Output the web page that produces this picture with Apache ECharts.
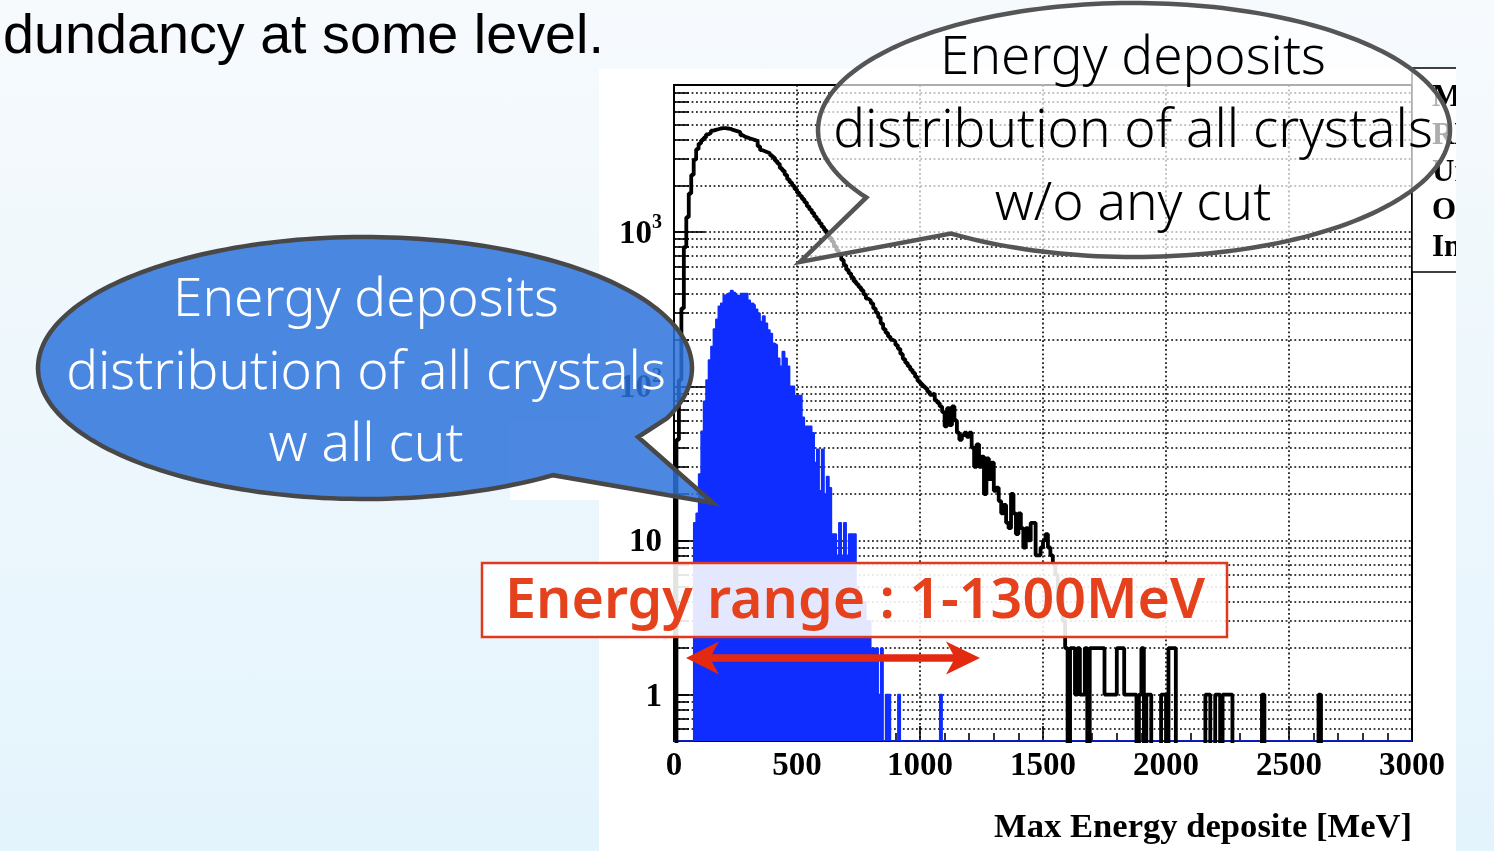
<!DOCTYPE html>
<html>
<head>
<meta charset="utf-8">
<script src="https://cdn.jsdelivr.net/npm/echarts@6/dist/echarts.min.js"></script>
<style>
html,body{margin:0;padding:0;width:1494px;height:851px;overflow:hidden;}
body{background:linear-gradient(to bottom,#f6fafd 0%,#e4f4fc 100%);position:relative;}
#panel{position:absolute;left:599px;top:69px;width:857px;height:782px;background:#fff;}
#c{position:absolute;left:0;top:0;width:1494px;height:851px;}
</style>
</head>
<body>
<div id="panel"></div>
<div id="c"></div>
<script>
// ---------------- data ----------------
const energyBinStart = 0;      // MeV
const energyBinWidth = 10;     // MeV
// counts per 10 MeV bin, 0..3000 MeV, without any cut (black outline)
const countsNoCut = [
  0,45,110,320,800,1250,1780,2350,2950,3450,3750,3950,4100,4300,4400,4550,4600,4650,4700,4720,
  4720,4700,4680,4600,4550,4500,4450,4250,4150,4100,4050,4000,3950,3900,3600,3400,3350,3300,3250,3150,
  3050,2900,2780,2600,2500,2350,2200,2100,2000,1900,1800,1720,1640,1560,1470,1400,1330,1260,1200,1140,
  1080,1030,980,920,870,810,760,710,660,610,570,540,510,480,460,440,420,395,370,360,
  345,320,300,280,255,235,222,210,200,195,185,175,162,150,142,135,128,122,115,108,
  104,100,97,92,88,90,81,78,74,68,55,72,56,74,60,50,45,48,50,47,
  50,40,30,42,30,35,20,34,25,32,21,22,18,15,17,13,12,20,15,11,
  15,12,9,12,10,13,13,8,8,9,10,11,9,8,7,6,4,5,3,2,
  0,2,2,1,2,1,1,2,0,2,2,2,2,2,2,1,1,1,1,1,
  2,2,2,1,1,1,1,1,0,1,2,0,1,1,0,0,0,0,1,1,
  0,2,2,2,0,0,0,0,0,0,0,0,0,0,0,0,1,1,0,0,
  1,1,0,1,1,1,1,0,0,0,0,0,0,0,0,0,0,0,0,1,
  0,0,0,0,0,0,0,0,0,0,0,0,0,0,0,0,0,0,0,0,
  0,0,1,0,0,0,0,0,0,0,0,0,0,0,0,0,0,0,0,0,
  0,0,0,0,0,0,0,0,0,0,0,0,0,0,0,0,0,0,0,0
];
// counts per 10 MeV bin, 0..3000 MeV, with all cuts (blue filled)
const countsAllCut = [
  0,0,0,0,0,0,0,0,13,15,27,51,80,110,148,181,235,272,330,346,
  390,400,405,418,405,390,380,400,400,400,362,346,336,316,298,263,286,256,232,220,
  190,185,152,135,168,152,135,100,100,87,87,87,63,55,55,55,50,32,39,21,
  39,20,26,22,11,11,8,13,8,13,8,11,11,11,5,4,4,4,3,3,
  2,2,2,1,2,0,1,1,0,0,0,1,0,0,0,0,0,0,0,0,
  0,0,0,0,0,0,0,0,1,0,0,0,0,0,0,0,0,0,0,0,
  0,0,0,0,0,0,0,0,0,0,0,0,0,0,0,0,0,0,0,0,
  0,0,0,0,0,0,0,0,0,0,0,0,0,0,0,0,0,0,0,0,
  0,0,0,0,0,0,0,0,0,0,0,0,0,0,0,0,0,0,0,0,
  0,0,0,0,0,0,0,0,0,0,0,0,0,0,0,0,0,0,0,0,
  0,0,0,0,0,0,0,0,0,0,0,0,0,0,0,0,0,0,0,0,
  0,0,0,0,0,0,0,0,0,0,0,0,0,0,0,0,0,0,0,0,
  0,0,0,0,0,0,0,0,0,0,0,0,0,0,0,0,0,0,0,0,
  0,0,0,0,0,0,0,0,0,0,0,0,0,0,0,0,0,0,0,0,
  0,0,0,0,0,0,0,0,0,0,0,0,0,0,0,0,0,0,0,0
];
const xTickValues = [0,500,1000,1500,2000,2500,3000];
const yDecadeValues = [1,10,100,1000];
const yRange = [0.5,9000];
const xTitle = 'Max Energy deposite [MeV]';
const statsLabels = ['Mean','RMS','Underflow','Overflow','Integral'];
const bubbleNoCutLines = ['Energy deposits','distribution of all crystals','w/o any cut'];
const bubbleAllCutLines = ['Energy deposits','distribution of all crystals','w all cut'];
const rangeLabel = 'Energy range : 1-1300MeV';
const slideText = 'dundancy at some level.';

// ---------------- helpers ----------------
const YMIN = Math.log10(yRange[0]);
const YMAX = Math.log10(yRange[1]);
function histToSteps(counts, zeroVal){
  const pts = counts.map((c,i)=>[energyBinStart + i*energyBinWidth, c>0 ? Math.log10(c) : zeroVal]);
  pts.push([energyBinStart + counts.length*energyBinWidth, pts[pts.length-1][1]]);
  return pts;
}
const majorVals = yDecadeValues.map(v=>Math.log10(v));
const allTickVals = [];
for (let d=-1; d<=3; d++){
  for (let k=1; k<=9; k++){
    const v = Math.log10(k*Math.pow(10,d));
    if (v > YMIN+1e-9 && v < YMAX-1e-9) allTickVals.push(v);
  }
}
const mctx = document.createElement('canvas').getContext('2d');
function fitSize(text, weight, family, target){
  mctx.font = weight + ' 100px ' + family;
  return 100*target/mctx.measureText(text).width;
}
function bubbleOutline(cx, cy, rx, ry, fromDeg, toDeg, tail){
  const pts = [];
  const n = 200;
  for (let i=0;i<=n;i++){
    const t = (fromDeg + (toDeg-fromDeg)*i/n)*Math.PI/180;
    pts.push([cx + rx*Math.cos(t), cy + ry*Math.sin(t)]);
  }
  return pts.concat(tail);
}

const SANS = "'Noto Sans'";
const SERIF = "'Liberation Serif'";
const bubbleW = '300';
const bubbleSize = fitSize('distribution of all crystals',bubbleW,SANS,600);
const rangeW = '600';
const rangeSize = fitSize(rangeLabel,rangeW,SANS,700);
const titleSize = fitSize(xTitle,'bold',SERIF,418);
const slideSize = fitSize(slideText,'normal',"'Liberation Sans'",601);

const BLUE = '#102dff';
const dotted = {color:'#000', width:1.6, type:[1.8,2.6]};
const BG = {type:'linear',x:0,y:0,x2:0,y2:1,colorStops:[{offset:0,color:'#f6fafd'},{offset:1,color:'#e4f4fc'}]};

const graphics = [];
// top slide text
graphics.push({type:'text', z:30, style:{text:slideText, x:3, y:38, fill:'#000', fontFamily:"'Liberation Sans'", fontSize:slideSize, align:'left', verticalAlign:'middle'}});
// small white patch of the slide under the blue bubble
graphics.push({type:'rect', z:1, shape:{x:510,y:420,width:90,height:80}, style:{fill:'#fff'}});
// stats box (partially visible)
graphics.push({type:'rect', z:10, shape:{x:1412,y:68,width:120,height:204}, style:{fill:'#fff', stroke:'#000', lineWidth:1.5}});
statsLabels.forEach((s,i)=>{
  graphics.push({type:'text', z:11, style:{text:s, x:1432, y:98+i*37.5, fill:'#000', fontFamily:SERIF, fontWeight:'bold', fontSize:31, align:'left', verticalAlign:'middle'}});
});
// cover right strip of slide background
graphics.push({type:'rect', z:12, shape:{x:1456,y:0,width:40,height:851}, style:{fill:BG}});
// x axis title
graphics.push({type:'text', z:13, style:{text:xTitle, x:1412, y:828, fill:'#000', fontFamily:SERIF, fontWeight:'bold', fontSize:titleSize, align:'right', verticalAlign:'middle'}});
// white bubble (no cut)
graphics.push({type:'polygon', z:20, shape:{points:bubbleOutline(1134,130,316,127,147.9,485.4,[[800,262]])},
  style:{fill:'rgba(255,255,255,0.68)', stroke:'#555', lineWidth:4.5}});
bubbleNoCutLines.forEach((s,i)=>{
  graphics.push({type:'text', z:21, style:{text:s, x:1133, y:59+i*73, fill:'#000', fontFamily:SANS, fontWeight:bubbleW, fontSize:bubbleSize, align:'center', verticalAlign:'middle'}});
});
// blue bubble (all cut)
graphics.push({type:'polygon', z:20, shape:{points:bubbleOutline(365,368,327,131,54.9,382.5,[[638,437],[713,503]])},
  style:{fill:'rgba(45,115,220,0.85)', stroke:'#484848', lineWidth:4.5}});
bubbleAllCutLines.forEach((s,i)=>{
  graphics.push({type:'text', z:21, style:{text:s, x:366, y:301+i*72.5, fill:'#fff', fontFamily:SANS, fontWeight:bubbleW, fontSize:bubbleSize, align:'center', verticalAlign:'middle'}});
});
// red range box
graphics.push({type:'rect', z:22, shape:{x:482,y:563,width:745,height:74}, style:{fill:'rgba(255,255,255,0.89)', stroke:'#e0391d', lineWidth:2.5}});
graphics.push({type:'text', z:23, style:{text:rangeLabel, x:855, y:602, fill:'#e5411d', fontFamily:SANS, fontWeight:rangeW, fontSize:rangeSize, align:'center', verticalAlign:'middle'}});
// red double arrow
graphics.push({type:'polygon', z:24, shape:{points:[[686,658],[719,641.5],[712,654.3],[953,654.3],[946,641.5],[980,658],[946,674.5],[953,661.7],[712,661.7],[719,674.5]]},
  style:{fill:'#e3290f'}});

const option = {
  animation:false,
  backgroundColor:'transparent',
  grid:{left:674, top:85, width:738, height:656, show:true, borderColor:'#000', borderWidth:2, backgroundColor:'transparent', containLabel:false},
  xAxis:{
    type:'value', min:0, max:3000, interval:500,
    axisLine:{show:true, onZero:false, lineStyle:{color:'#000', width:2}},
    axisTick:{show:true, inside:true, length:15, lineStyle:{color:'#000', width:1.6}},
    minorTick:{show:true, splitNumber:5, length:8, lineStyle:{color:'#000', width:1.6}},
    axisLabel:{customValues:xTickValues, showMinLabel:true, showMaxLabel:true, margin:9, color:'#000', fontFamily:SERIF, fontWeight:'bold', fontSize:33,
      formatter:function(v){ return String(Math.round(v)); }},
    splitLine:{show:true, lineStyle:dotted}
  },
  yAxis:[{
    type:'value', min:YMIN, max:YMAX,
    axisLine:{show:true, onZero:false, lineStyle:{color:'#000', width:2}},
    axisTick:{show:true, inside:true, length:15, customValues:allTickVals, lineStyle:{color:'#000', width:1.6}},
    axisLabel:{customValues:majorVals, margin:12, color:'#000',
      formatter:function(v){ const d=Math.round(v); return d===0?'{b|1}':(d===1?'{b|10}':'{b|10}{s|'+d+'}'); },
      rich:{
        b:{fontFamily:SERIF, fontWeight:'bold', fontSize:33, color:'#000', verticalAlign:'bottom', lineHeight:38},
        s:{fontFamily:SERIF, fontWeight:'bold', fontSize:20, color:'#000', verticalAlign:'top', lineHeight:38}
      }},
    splitLine:{show:true, lineStyle:dotted}
  },{
    type:'value', min:YMIN, max:YMAX, position:'left',
    axisLine:{show:false},
    axisTick:{show:true, inside:true, length:31, customValues:majorVals, lineStyle:{color:'#000', width:1.6}},
    axisLabel:{show:false},
    splitLine:{show:false}
  }],
  series:[{
    type:'line', yAxisIndex:0, step:'end', symbol:'none', clip:true, z:2,
    data:histToSteps(countsAllCut, YMIN),
    lineStyle:{color:BLUE, width:1.5},
    areaStyle:{color:BLUE, opacity:1, origin:'start'}
  },{
    type:'line', yAxisIndex:0, step:'end', symbol:'none', clip:true, z:3,
    data:histToSteps(countsNoCut, YMIN-1),
    lineStyle:{color:'#000', width:3.8}
  }],
  graphic:{elements:graphics}
};
const chart = echarts.init(document.getElementById('c'), null, {renderer:'canvas'});
chart.setOption(option);
</script>
</body>
</html>
